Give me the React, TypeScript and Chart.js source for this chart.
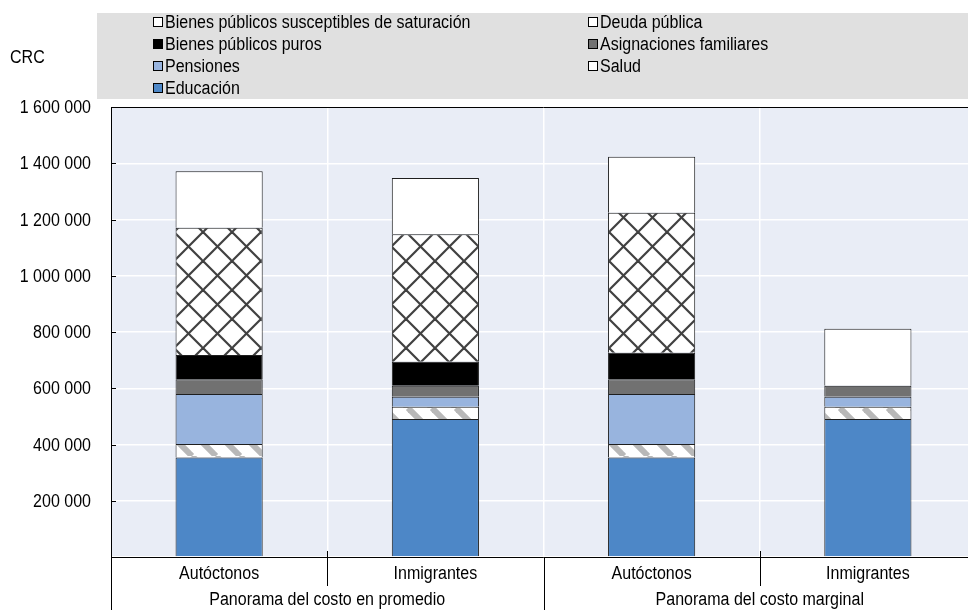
import { useEffect, useRef } from 'react';
import { Chart, registerables } from 'chart.js';

Chart.register(...registerables);

const categories = ['Autóctonos', 'Inmigrantes', 'Autóctonos', 'Inmigrantes'];
const groupLabels = ['Panorama del costo en promedio', 'Panorama del costo marginal'];
const yMax = 1600000;
const yStep = 200000;
const unitLabel = 'CRC';

const educacion = [354000, 491000, 354000, 491000];
const salud = [48000, 43000, 48000, 43000];
const pensiones = [178000, 36000, 178000, 36000];
const asignaciones = [52000, 39000, 52000, 39000];
const bienesPuros = [86000, 85000, 94000, 0];
const deudaPublica = [453000, 454000, 498000, 0];
const bienesSaturacion = [201000, 200000, 199000, 203000];

const seriesNames = [
  'Educación',
  'Salud',
  'Pensiones',
  'Asignaciones familiares',
  'Bienes públicos puros',
  'Deuda pública',
  'Bienes públicos susceptibles de saturación',
];

const FONT = '"Liberation Sans", Arial, sans-serif';
const SQUEEZE = 0.89;
const CANVAS_W = 976;

function makeStripePattern(ctx: CanvasRenderingContext2D): CanvasPattern {
  const T = 24;
  const c = document.createElement('canvas');
  c.width = T;
  c.height = T;
  const g = c.getContext('2d')!;
  g.fillStyle = '#ffffff';
  g.fillRect(0, 0, T, T);
  g.strokeStyle = '#b8b8b8';
  g.lineWidth = 6;
  for (const k of [-T, 0, T]) {
    g.beginPath();
    g.moveTo(k, 0);
    g.lineTo(k + T, T);
    g.stroke();
  }
  return ctx.createPattern(c, 'repeat')!;
}

function makeCrossPattern(ctx: CanvasRenderingContext2D): CanvasPattern {
  const T = 29;
  const c = document.createElement('canvas');
  c.width = T;
  c.height = T;
  const g = c.getContext('2d')!;
  g.fillStyle = '#ffffff';
  g.fillRect(0, 0, T, T);
  g.strokeStyle = '#404040';
  g.lineWidth = 2.2;
  for (const k of [-T, 0, T]) {
    g.beginPath();
    g.moveTo(k, 0);
    g.lineTo(k + T, T);
    g.stroke();
    g.beginPath();
    g.moveTo(k + T, 0);
    g.lineTo(k, T);
    g.stroke();
  }
  return ctx.createPattern(c, 'repeat')!;
}

function fmt(v: number): string {
  if (v === 0) return '';
  return String(v).replace(/\B(?=(\d{3})+(?!\d))/g, ' ');
}

function drawText(c: CanvasRenderingContext2D, text: string, x: number, y: number, align: CanvasTextAlign) {
  c.save();
  c.translate(x, y);
  c.scale(SQUEEZE, 1);
  c.textAlign = align;
  c.textBaseline = 'middle';
  c.fillText(text, 0, 0);
  c.restore();
}

export default function App() {
  const ref = useRef<HTMLCanvasElement>(null);

  useEffect(() => {
    document.body.style.margin = '0';
    document.body.style.overflow = 'hidden';
    const canvas = ref.current!;
    const ctx = canvas.getContext('2d')!;
    const stripe = makeStripePattern(ctx);
    const cross = makeCrossPattern(ctx);

    const seriesData = [educacion, salud, pensiones, asignaciones, bienesPuros, deudaPublica, bienesSaturacion];
    const fills: (string | CanvasPattern)[] = ['#4d87c7', stripe, '#98b4de', '#717171', '#000000', cross, '#ffffff'];
    const legendFills = ['#4d87c7', '#ffffff', '#98b4de', '#717171', '#000000', '#ffffff', '#ffffff'];

    const datasets = seriesData.map((d, i) => ({
      label: seriesNames[i],
      data: d.map((v) => (v === 0 ? null : v)),
      backgroundColor: fills[i] as any,
      borderColor: '#1e1e1e',
      borderWidth: 1,
      categoryPercentage: 1,
      barPercentage: 0.403,
    }));

    const decor = {
      id: 'decor',
      beforeDraw(chart: any) {
        const c = chart.ctx as CanvasRenderingContext2D;
        const a = chart.chartArea;
        c.save();
        c.fillStyle = '#e0e0e0';
        c.fillRect(97, 13, CANVAS_W - 97, 86);
        c.fillStyle = '#e9edf6';
        c.fillRect(a.left, a.top, a.right - a.left, a.bottom - a.top);
        c.restore();
      },
      afterDraw(chart: any) {
        const c = chart.ctx as CanvasRenderingContext2D;
        const a = chart.chartArea;
        const x = chart.scales.x;
        const y = chart.scales.y;
        c.save();
        c.strokeStyle = '#000';
        c.lineWidth = 1;
        // top border
        c.beginPath();
        c.moveTo(a.left, a.top + 0.5);
        c.lineTo(a.right, a.top + 0.5);
        c.stroke();
        c.fillStyle = '#000';
        c.font = '18px ' + FONT;
        // y ticks and labels
        y.ticks.forEach((t: any) => {
          const v = t.value;
          if (v === 0) return;
          const py = Math.round(y.getPixelForValue(v)) + 0.5;
          c.beginPath();
          c.moveTo(a.left, py);
          c.lineTo(a.left + 5, py);
          c.stroke();
          drawText(c, fmt(v), a.left - 20, py + 1, 'right');
        });
        // x labels
        const p = (i: number) => x.getPixelForValue(i);
        (chart.data.labels as string[]).forEach((lab, i) => {
          drawText(c, lab, p(i), a.bottom + 17, 'center');
        });
        // separators
        const short = [(p(0) + p(1)) / 2, (p(2) + p(3)) / 2];
        for (const sx of short) {
          const xx = Math.round(sx) + 0.5;
          c.beginPath();
          c.moveTo(xx, a.bottom - 6);
          c.lineTo(xx, a.bottom + 29);
          c.stroke();
        }
        const long = [a.left, (p(1) + p(2)) / 2];
        for (const lx of long) {
          const xx = Math.round(lx) + 0.5;
          c.beginPath();
          c.moveTo(xx, a.bottom);
          c.lineTo(xx, 610);
          c.stroke();
        }
        // group labels
        groupLabels.forEach((g, gi) => {
          const cx = (p(gi * 2) + p(gi * 2 + 1)) / 2;
          drawText(c, g, cx, 600, 'center');
        });
        // unit label
        drawText(c, unitLabel, 10, 58, 'left');
        // legend
        const order = [6, 5, 4, 3, 2, 1, 0];
        const colX = [153, 588];
        const rowY = [22, 44, 66, 88];
        order.forEach((di, k) => {
          const col = k % 2;
          const row = Math.floor(k / 2);
          const sx = colX[col];
          const sy = rowY[row];
          c.fillStyle = legendFills[di];
          c.fillRect(sx, sy - 5, 10, 10);
          c.strokeStyle = '#000';
          c.lineWidth = 1;
          c.strokeRect(sx + 0.5, sy - 4.5, 9, 9);
          c.fillStyle = '#000';
          drawText(c, seriesNames[di], sx + 12, sy + 1, 'left');
        });
        c.restore();
      },
    };

    const chart = new Chart(ctx, {
      type: 'bar',
      data: { labels: categories, datasets },
      options: {
        animation: false,
        responsive: false,
        devicePixelRatio: 1,
        layout: { padding: { top: 107, right: 0, bottom: 0, left: 0 } },
        plugins: { legend: { display: false }, tooltip: { enabled: false } },
        scales: {
          x: {
            stacked: true,
            offset: true,
            grid: { color: '#ffffff', lineWidth: 1.5, drawTicks: false },
            border: { color: '#000', width: 1 },
            ticks: { display: false },
            afterFit(s: any) {
              s.height = 53;
            },
          },
          y: {
            stacked: true,
            min: 0,
            max: yMax,
            grid: { color: '#ffffff', lineWidth: 1.5, drawTicks: false },
            border: { color: '#000', width: 1 },
            ticks: { stepSize: yStep, display: false },
            afterFit(s: any) {
              s.width = 111;
            },
          },
        },
      },
      plugins: [decor],
    });
    return () => chart.destroy();
  }, []);

  return (
    <div style={{ width: 968, height: 610, overflow: 'hidden' }}>
      <canvas ref={ref} width={CANVAS_W} height={610} style={{ display: 'block', width: CANVAS_W, height: 610 }} />
    </div>
  );
}
